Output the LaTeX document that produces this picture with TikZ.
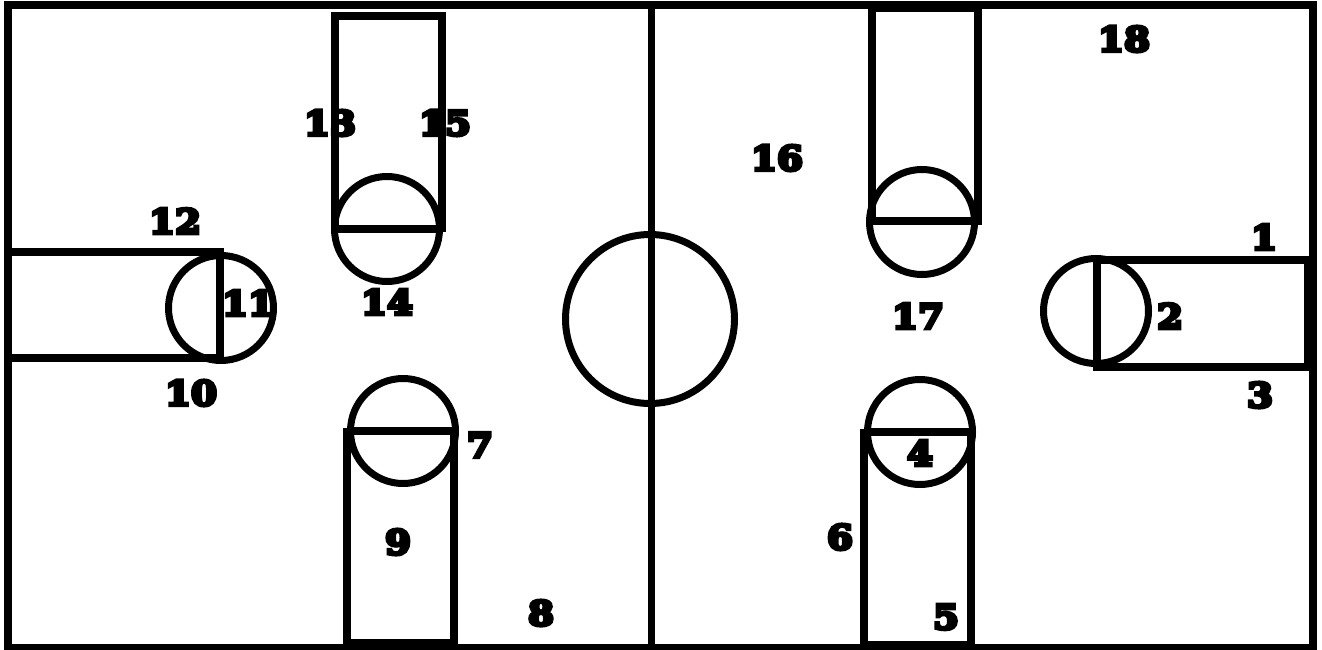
\documentclass[tikz,border=0pt]{standalone}
\usepackage{fontspec}
\font\fatnum="DejaVu Serif/B:embolden=10;extend=1.1" at 34pt
\tikzset{
  court/.style={line width=8.5pt,draw=black,line join=miter},
  key/.style={line width=8pt,draw=black,line join=miter},
  ring/.style={line width=7pt,draw=black},
  num/.style={inner sep=0pt,font=\fatnum,text=black}
}
\begin{document}
\begin{tikzpicture}[x=1pt,y=-1pt]
\useasboundingbox (0,0) rectangle (1322,650);
\fill[white] (0,0) rectangle (1322,650);
% keys with their circles
\draw[ring] (387,229) circle[radius=52.5];
\draw[key] (335,232) -- (335,16) -- (442,16) -- (442,232) (332,229) -- (442,229);
\draw[ring] (922,222) circle[radius=52.5];
\draw[key] (872,225) -- (872,8) -- (978,8) -- (978,225) (868,221) -- (978,221);
\draw[ring] (221,308) circle[radius=52.5];
\draw[key] (8,252) -- (224,252) (8,358) -- (224,358) (220,252) -- (220,358);
\draw[ring] (1096,311) circle[radius=52.5];
\draw[key] (1093,260) -- (1310,260) (1093,367) -- (1310,367) (1097,260) -- (1097,367);
\draw[line width=8pt] (1308,260) -- (1308,367);
\draw[ring] (403,431) circle[radius=52.5];
\draw[key] (347,428) -- (347,643) -- (454,643) -- (454,428) (347,431) -- (457,431);
\draw[ring] (920,432) circle[radius=52.5];
\draw[key] (864,429) -- (864,645) -- (971,645) -- (971,429) (864,432) -- (974,432);
% centre
\draw[ring] (650,319) circle[radius=84.5];
\draw[ring] (651,5) -- (651,648);
% boundary
\draw[court] (8,5) rectangle (1313,648);
% labels
\node[num] (n1)  at (1264,237) {1};
\node[num] (n2)  at (1170,316) {2};
\node[num] (n3)  at (1260,395) {3};
\node[num] (n4)  at (920,453) {4};
\node[num] (n5)  at (946,617) {5};
\node[num] (n6)  at (840,537) {6};
\node[num] (n7)  at (480,445) {7};
\node[num] (n8)  at (541,613) {8};
\node[num] (n9)  at (398,542) {9};
\node[num] (n10) at (191,393) {10};
\node[num] (n11) at (248,303) {11};
\node[num] (n12) at (175,221) {12};
\node[num] (n13) at (330,123) {13};
\node[num] (n14) at (387,302) {14};
\node[num] (n15) at (445,123) {15};
\node[num] (n16) at (777,158) {16};
\node[num] (n17) at (918,316) {17};
\node[num] (n18) at (1124,39) {18};
\end{tikzpicture}
\end{document}
